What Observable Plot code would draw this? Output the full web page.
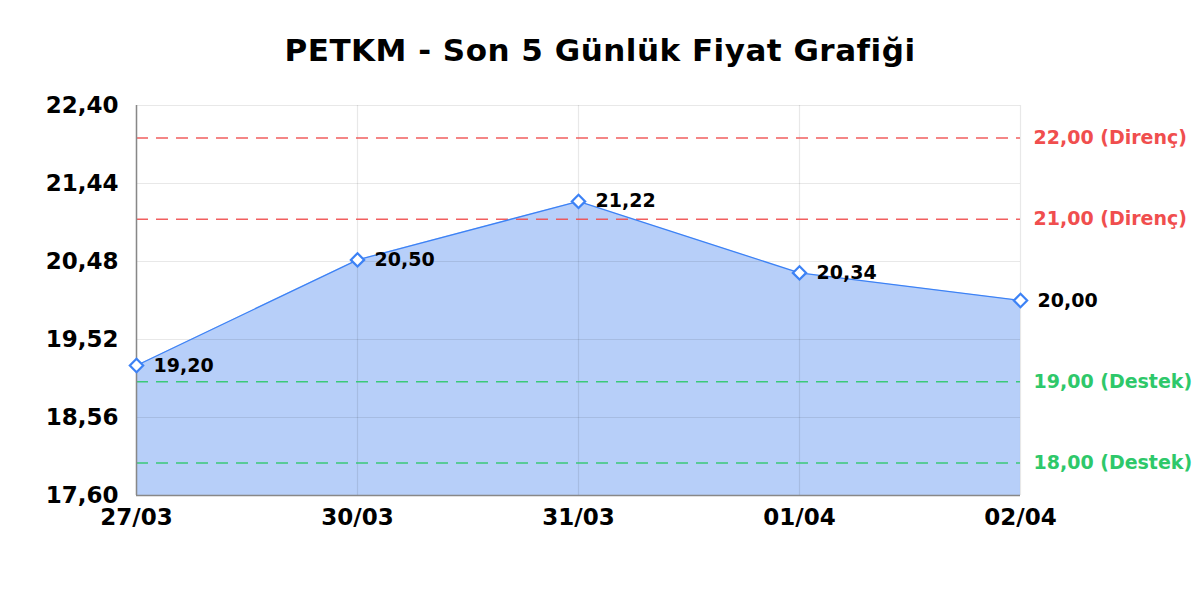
<!DOCTYPE html>
<html>
<head>
<meta charset="utf-8">
<script src="https://cdn.jsdelivr.net/npm/d3@7"></script>
<script src="https://cdn.jsdelivr.net/npm/@observablehq/plot@0.6"></script>
<style>
  html, body { margin: 0; padding: 0; background: #fff; }
  #title { height: 80px; line-height: 100px; text-align: center; font-family: "DejaVu Sans", sans-serif; font-weight: bold; font-size: 31px; letter-spacing: 0.5px; color: #000; white-space: nowrap; }
</style>
</head>
<body>
<div id="title"></div>
<div id="chart"></div>
<script>
const titleText = "PETKM - Son 5 Günlük Fiyat Grafiği";
const dates = ["27/03", "30/03", "31/03", "01/04", "02/04"];
const prices = [19.20, 20.50, 21.22, 20.34, 20.00];
const resistanceLevels = [22.00, 21.00];
const supportLevels = [18.00, 19.00];
const yTicks = [17.60, 18.56, 19.52, 20.48, 21.44, 22.40];
const resistanceLabel = "Direnç";
const supportLabel = "Destek";

const fmt = d => d.toFixed(2).replace(".", ",");
const data = dates.map((d, i) => ({date: d, price: prices[i]}));
const yMin = yTicks[0], yMax = yTicks[yTicks.length - 1];
const levels = [
  ...resistanceLevels.map(v => ({value: v, label: `${fmt(v)} (${resistanceLabel})`, color: "#f04e4e"})),
  ...supportLevels.map(v => ({value: v, label: `${fmt(v)} (${supportLabel})`, color: "#2ec86a"}))
];
const lastDate = dates[dates.length - 1];

document.getElementById("title").textContent = titleText;

const blue = "#3d82f5";

const chart = Plot.plot({
  width: 1200,
  height: 520,
  marginLeft: 136,
  marginRight: 180,
  marginTop: 25,
  marginBottom: 105,
  style: {fontFamily: "DejaVu Sans, sans-serif", fontWeight: "bold", color: "#000", background: "#fff"},
  x: {type: "point", domain: dates, padding: 0, label: null},
  y: {domain: [yMin, yMax], label: null},
  marks: [
    Plot.areaY(data, {x: "date", y1: () => yMin, y2: "price", fill: "#b7cff9", curve: "linear"}),
    Plot.gridY(yTicks, {stroke: "#000", strokeOpacity: 0.09, strokeWidth: 1.2}),
    Plot.gridX(dates, {stroke: "#000", strokeOpacity: 0.09, strokeWidth: 1.2}),
    Plot.ruleY(levels, {y: "value", stroke: "color", strokeWidth: 1.5, strokeDasharray: "12,8", strokeOpacity: 0.9}),
    Plot.text(levels, {x: () => lastDate, y: "value", text: "label", fill: "color", textAnchor: "start", dx: 13, fontSize: 19, fontWeight: "bold", style: "letter-spacing: 1px"}),
    Plot.ruleX([dates[0]], {stroke: "#888", strokeWidth: 1.5}),
    Plot.ruleY([yMin], {stroke: "#888", strokeWidth: 1.5}),
    Plot.line(data, {x: "date", y: "price", stroke: blue, strokeWidth: 1.3}),
    Plot.dot(data, {x: "date", y: "price", symbol: "diamond2", r: 6, fill: "#fff", stroke: blue, strokeWidth: 2.2}),
    Plot.text(data, {x: "date", y: "price", text: d => fmt(d.price), textAnchor: "start", dx: 17, fontSize: 19, fontWeight: "bold", fill: "#000", style: "letter-spacing: 0.5px"}),
    Plot.axisY(yTicks, {tickFormat: fmt, tickSize: 0, tickPadding: 18, fontSize: 23, fontWeight: "bold", label: null, style: "letter-spacing: 0.4px"}),
    Plot.axisX(dates, {tickSize: 0, tickPadding: 13, fontSize: 23, fontWeight: "bold", label: null, style: "letter-spacing: 0.6px"})
  ]
});
document.getElementById("chart").appendChild(chart);
</script>
</body>
</html>
